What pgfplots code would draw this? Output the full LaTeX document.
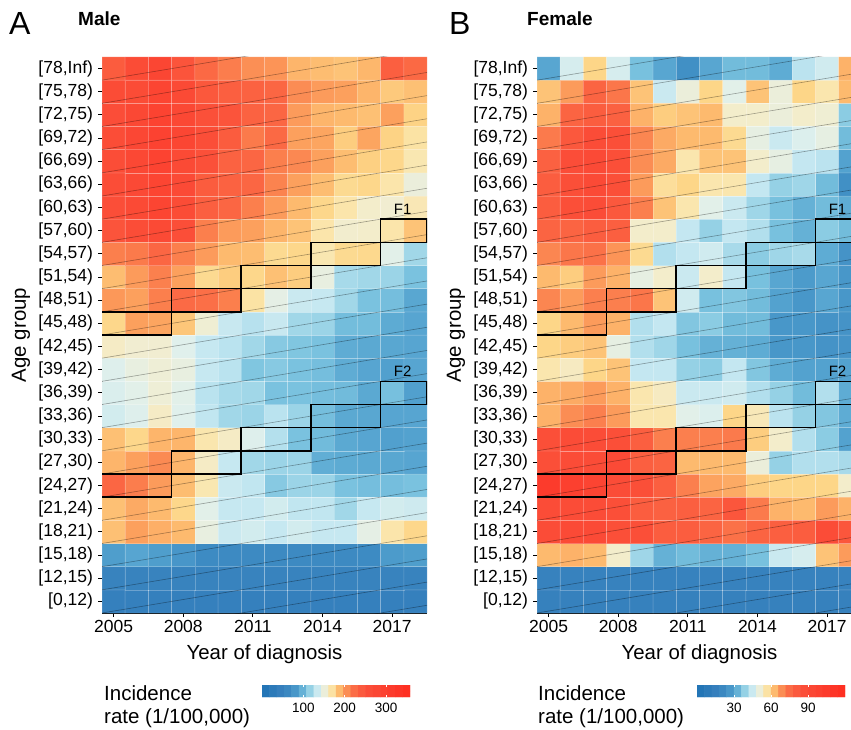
\documentclass[border=0pt]{standalone}
\usepackage{pgfplots}
\pgfplotsset{compat=1.18}
\usepackage{fontspec}
\setmainfont{Liberation Sans}

% RdYlBu-like scale (positions as fractions x1000)
\pgfplotsset{colormap={incid}{
  rgb255(0pt)=(30,115,180)
  rgb255(130pt)=(54,128,189)
  rgb255(200pt)=(62,140,195)
  rgb255(255pt)=(85,164,208)
  rgb255(300pt)=(120,193,222)
  rgb255(330pt)=(155,212,231)
  rgb255(365pt)=(195,231,241)
  rgb255(405pt)=(224,240,236)
  rgb255(440pt)=(243,237,205)
  rgb255(470pt)=(251,229,170)
  rgb255(500pt)=(253,214,136)
  rgb255(525pt)=(253,186,110)
  rgb255(555pt)=(252,158,92)
  rgb255(590pt)=(251,128,78)
  rgb255(640pt)=(251,100,66)
  rgb255(720pt)=(251,78,56)
  rgb255(850pt)=(252,62,46)
  rgb255(1000pt)=(255,45,32)
}}

\pgfplotsset{
  heat/.style={
    scale only axis, height=556pt,
    xmin=2004.5, ymin=-0.5, ymax=23.5,
    axis x line*=bottom, axis y line*=left,
    axis line style={-, line width=0.9pt},
    tick align=outside, major tick length=4pt,
    tick style={black, line width=0.9pt},
    xtick={2005,2008,2011,2014,2017},
    xticklabels={2005,2008,2011,2014,2017},
    ytick={0,...,23},
    yticklabels={{[0,12)},{[12,15)},{[15,18)},{[18,21)},{[21,24)},{[24,27)},
      {[27,30)},{[30,33)},{[33,36)},{[36,39)},{[39,42)},{[42,45)},{[45,48)},
      {[48,51)},{[51,54)},{[54,57)},{[57,60)},{[60,63)},{[63,66)},{[66,69)},
      {[69,72)},{[72,75)},{[75,78)},{[78,Inf)}},
    tick label style={font=\fontsize{17.5}{17.5}\selectfont},
    yticklabel style={xshift=-1.5pt},
    colormap name=incid,
  },
  cells/.style={matrix plot*, mesh/cols=14, point meta=explicit,
    draw=white, draw opacity=0.25, line width=0.5pt},
  % matrix plot* leaves its settings in 'every axis plot post': clear them
  cohort/.style={/pgfplots/every axis plot post/.style={}, sharp plot, no marks,
    black, opacity=0.35, line width=0.6pt, forget plot},
  band/.style={/pgfplots/every axis plot post/.style={}, sharp plot, no marks,
    black, line width=1.6pt, forget plot},
  cbar/.style={scale only axis, width=148pt, height=12pt, ymin=0, ymax=1,
    axis line style={draw=none}, ytick=\empty, axis on top,
    tick align=inside, major tick length=2.4pt, xtick pos=both,
    xticklabel pos=lower, tick style={white, line width=0.8pt},
    tick label style={font=\fontsize{13.5}{13.5}\selectfont},
    xticklabel style={yshift=-3pt},
    colormap name=incid},
}

% birth-cohort guide lines, one row apart
\newcommand\cohortlines{%
\addplot[cohort] coordinates {(2004.5,-2.5) (2018.5,-0.1667)};
\addplot[cohort] coordinates {(2004.5,-1.5) (2018.5,0.8333)};
\addplot[cohort] coordinates {(2004.5,-0.5) (2018.5,1.8333)};
\addplot[cohort] coordinates {(2004.5,0.5) (2018.5,2.8333)};
\addplot[cohort] coordinates {(2004.5,1.5) (2018.5,3.8333)};
\addplot[cohort] coordinates {(2004.5,2.5) (2018.5,4.8333)};
\addplot[cohort] coordinates {(2004.5,3.5) (2018.5,5.8333)};
\addplot[cohort] coordinates {(2004.5,4.5) (2018.5,6.8333)};
\addplot[cohort] coordinates {(2004.5,5.5) (2018.5,7.8333)};
\addplot[cohort] coordinates {(2004.5,6.5) (2018.5,8.8333)};
\addplot[cohort] coordinates {(2004.5,7.5) (2018.5,9.8333)};
\addplot[cohort] coordinates {(2004.5,8.5) (2018.5,10.8333)};
\addplot[cohort] coordinates {(2004.5,9.5) (2018.5,11.8333)};
\addplot[cohort] coordinates {(2004.5,10.5) (2018.5,12.8333)};
\addplot[cohort] coordinates {(2004.5,11.5) (2018.5,13.8333)};
\addplot[cohort] coordinates {(2004.5,12.5) (2018.5,14.8333)};
\addplot[cohort] coordinates {(2004.5,13.5) (2018.5,15.8333)};
\addplot[cohort] coordinates {(2004.5,14.5) (2018.5,16.8333)};
\addplot[cohort] coordinates {(2004.5,15.5) (2018.5,17.8333)};
\addplot[cohort] coordinates {(2004.5,16.5) (2018.5,18.8333)};
\addplot[cohort] coordinates {(2004.5,17.5) (2018.5,19.8333)};
\addplot[cohort] coordinates {(2004.5,18.5) (2018.5,20.8333)};
\addplot[cohort] coordinates {(2004.5,19.5) (2018.5,21.8333)};
\addplot[cohort] coordinates {(2004.5,20.5) (2018.5,22.8333)};
\addplot[cohort] coordinates {(2004.5,21.5) (2018.5,23.8333)};
\addplot[cohort] coordinates {(2004.5,22.5) (2018.5,24.8333)};
}
% cohort bands F1 and F2
\newcommand\bands{%
\addplot[band] coordinates {(2004.5,12.5) (2007.5,12.5) (2007.5,13.5) (2010.5,13.5) (2010.5,14.5) (2013.5,14.5) (2013.5,15.5) (2016.5,15.5) (2016.5,16.5) (2018.5,16.5) (2018.5,15.5) (2016.5,15.5) (2016.5,14.5) (2013.5,14.5) (2013.5,13.5) (2010.5,13.5) (2010.5,12.5) (2007.5,12.5) (2007.5,11.5) (2004.5,11.5)};
\addplot[band] coordinates {(2004.5,5.5) (2007.5,5.5) (2007.5,6.5) (2010.5,6.5) (2010.5,7.5) (2013.5,7.5) (2013.5,8.5) (2016.5,8.5) (2016.5,9.5) (2018.5,9.5) (2018.5,8.5) (2016.5,8.5) (2016.5,7.5) (2013.5,7.5) (2013.5,6.5) (2010.5,6.5) (2010.5,5.5) (2007.5,5.5) (2007.5,4.5) (2004.5,4.5)};
\node[font=\fontsize{15}{15}\selectfont, anchor=base] at (axis cs:2017.45,16.72) {F1};
\node[font=\fontsize{15}{15}\selectfont, anchor=base] at (axis cs:2017.45,9.72) {F2};
}

\begin{document}
\begin{tikzpicture}
\useasboundingbox (0pt,0pt) rectangle (851pt,-730pt);
\fill[white] (0pt,0pt) rectangle (851pt,-730pt);

% ---------------- Male ----------------
\begin{axis}[heat, at={(102pt,-613pt)}, anchor=south west, width=325pt,
  xmax=2018.5, point meta min=0, point meta max=358]
\addplot[cells] coordinates {
(2005,0)[45] (2006,0)[45] (2007,0)[45] (2008,0)[45] (2009,0)[45] (2010,0)[45] (2011,0)[45] (2012,0)[45] (2013,0)[45] (2014,0)[45] (2015,0)[45] (2016,0)[45] (2017,0)[45] (2018,0)[45]
(2005,1)[52] (2006,1)[52] (2007,1)[52] (2008,1)[52] (2009,1)[52] (2010,1)[52] (2011,1)[52] (2012,1)[52] (2013,1)[52] (2014,1)[52] (2015,1)[52] (2016,1)[52] (2017,1)[52] (2018,1)[52]
(2005,2)[86] (2006,2)[92] (2007,2)[86] (2008,2)[80] (2009,2)[70] (2010,2)[68] (2011,2)[68] (2012,2)[68] (2013,2)[68] (2014,2)[68] (2015,2)[68] (2016,2)[70] (2017,2)[84] (2018,2)[86]
(2005,3)[186] (2006,3)[198] (2007,3)[192] (2008,3)[188] (2009,3)[150] (2010,3)[134] (2011,3)[138] (2012,3)[132] (2013,3)[138] (2014,3)[132] (2015,3)[132] (2016,3)[148] (2017,3)[168] (2018,3)[178]
(2005,4)[186] (2006,4)[194] (2007,4)[188] (2008,4)[178] (2009,4)[146] (2010,4)[132] (2011,4)[132] (2012,4)[138] (2013,4)[130] (2014,4)[130] (2015,4)[120] (2016,4)[132] (2017,4)[138] (2018,4)[136]
(2005,5)[228] (2006,5)[213] (2007,5)[200] (2008,5)[187] (2009,5)[166] (2010,5)[134] (2011,5)[130] (2012,5)[112] (2013,5)[118] (2014,5)[118] (2015,5)[108] (2016,5)[106] (2017,5)[106] (2018,5)[108]
(2005,6)[190] (2006,6)[198] (2007,6)[207] (2008,6)[190] (2009,6)[160] (2010,6)[132] (2011,6)[120] (2012,6)[118] (2013,6)[118] (2014,6)[97] (2015,6)[95] (2016,6)[94] (2017,6)[93] (2018,6)[92]
(2005,7)[186] (2006,7)[178] (2007,7)[190] (2008,7)[190] (2009,7)[167] (2010,7)[160] (2011,7)[144] (2012,7)[126] (2013,7)[108] (2014,7)[104] (2015,7)[94] (2016,7)[92] (2017,7)[88] (2018,7)[90]
(2005,8)[138] (2006,8)[144] (2007,8)[160] (2008,8)[145] (2009,8)[130] (2010,8)[120] (2011,8)[118] (2012,8)[128] (2013,8)[118] (2014,8)[106] (2015,8)[94] (2016,8)[93] (2017,8)[92] (2018,8)[92]
(2005,9)[142] (2006,9)[146] (2007,9)[154] (2008,9)[146] (2009,9)[128] (2010,9)[122] (2011,9)[120] (2012,9)[108] (2013,9)[108] (2014,9)[106] (2015,9)[104] (2016,9)[94] (2017,9)[107] (2018,9)[88]
(2005,10)[144] (2006,10)[150] (2007,10)[154] (2008,10)[150] (2009,10)[132] (2010,10)[128] (2011,10)[110] (2012,10)[112] (2013,10)[108] (2014,10)[106] (2015,10)[96] (2016,10)[92] (2017,10)[88] (2018,10)[92]
(2005,11)[160] (2006,11)[156] (2007,11)[156] (2008,11)[145] (2009,11)[132] (2010,11)[128] (2011,11)[120] (2012,11)[112] (2013,11)[110] (2014,11)[108] (2015,11)[96] (2016,11)[94] (2017,11)[93] (2018,11)[92]
(2005,12)[178] (2006,12)[198] (2007,12)[196] (2008,12)[184] (2009,12)[155] (2010,12)[133] (2011,12)[127] (2012,12)[133] (2013,12)[120] (2014,12)[118] (2015,12)[105] (2016,12)[105] (2017,12)[95] (2018,12)[92]
(2005,13)[201] (2006,13)[198] (2007,13)[212] (2008,13)[225] (2009,13)[222] (2010,13)[212] (2011,13)[170] (2012,13)[148] (2013,13)[134] (2014,13)[132] (2015,13)[120] (2016,13)[108] (2017,13)[106] (2018,13)[93]
(2005,14)[187] (2006,14)[200] (2007,14)[211] (2008,14)[198] (2009,14)[176] (2010,14)[182] (2011,14)[178] (2012,14)[186] (2013,14)[182] (2014,14)[150] (2015,14)[122] (2016,14)[120] (2017,14)[118] (2018,14)[108]
(2005,15)[212] (2006,15)[215] (2007,15)[228] (2008,15)[212] (2009,15)[200] (2010,15)[188] (2011,15)[187] (2012,15)[176] (2013,15)[178] (2014,15)[166] (2015,15)[176] (2016,15)[177] (2017,15)[146] (2018,15)[120]
(2005,16)[250] (2006,16)[262] (2007,16)[270] (2008,16)[258] (2009,16)[212] (2010,16)[200] (2011,16)[198] (2012,16)[190] (2013,16)[185] (2014,16)[168] (2015,16)[157] (2016,16)[158] (2017,16)[168] (2018,16)[185]
(2005,17)[258] (2006,17)[270] (2007,17)[285] (2008,17)[265] (2009,17)[235] (2010,17)[228] (2011,17)[212] (2012,17)[200] (2013,17)[188] (2014,17)[178] (2015,17)[168] (2016,17)[158] (2017,17)[156] (2018,17)[165]
(2005,18)[262] (2006,18)[272] (2007,18)[285] (2008,18)[268] (2009,18)[240] (2010,18)[232] (2011,18)[228] (2012,18)[210] (2013,18)[198] (2014,18)[187] (2015,18)[176] (2016,18)[178] (2017,18)[168] (2018,18)[152]
(2005,19)[262] (2006,19)[275] (2007,19)[290] (2008,19)[270] (2009,19)[255] (2010,19)[232] (2011,19)[228] (2012,19)[212] (2013,19)[208] (2014,19)[198] (2015,19)[187] (2016,19)[181] (2017,19)[178] (2018,19)[166]
(2005,20)[262] (2006,20)[278] (2007,20)[292] (2008,20)[280] (2009,20)[258] (2010,20)[240] (2011,20)[215] (2012,20)[226] (2013,20)[198] (2014,20)[196] (2015,20)[182] (2016,20)[196] (2017,20)[180] (2018,20)[170]
(2005,21)[260] (2006,21)[275] (2007,21)[290] (2008,21)[275] (2009,21)[255] (2010,21)[250] (2011,21)[232] (2012,21)[228] (2013,21)[200] (2014,21)[190] (2015,21)[188] (2016,21)[186] (2017,21)[198] (2018,21)[180]
(2005,22)[265] (2006,22)[265] (2007,22)[285] (2008,22)[270] (2009,22)[245] (2010,22)[236] (2011,22)[232] (2012,22)[228] (2013,22)[206] (2014,22)[200] (2015,22)[198] (2016,22)[190] (2017,22)[183] (2018,22)[186]
(2005,23)[240] (2006,23)[265] (2007,23)[280] (2008,23)[250] (2009,23)[226] (2010,23)[213] (2011,23)[205] (2012,23)[203] (2013,23)[190] (2014,23)[187] (2015,23)[185] (2016,23)[189] (2017,23)[236] (2018,23)[226]
};
\cohortlines
\bands
\end{axis}

% ---------------- Female ----------------
\begin{axis}[heat, at={(537pt,-613pt)}, anchor=south west, width=314pt,
  xmax=2018.03, point meta min=0, point meta max=120]
\addplot[cells] coordinates {
(2005,0)[16] (2006,0)[16] (2007,0)[16] (2008,0)[16] (2009,0)[16] (2010,0)[16] (2011,0)[16] (2012,0)[16] (2013,0)[16] (2014,0)[16] (2015,0)[16] (2016,0)[16] (2017,0)[16] (2018,0)[16]
(2005,1)[17] (2006,1)[17] (2007,1)[17] (2008,1)[17] (2009,1)[17] (2010,1)[17] (2011,1)[17] (2012,1)[17] (2013,1)[17] (2014,1)[17] (2015,1)[17] (2016,1)[17] (2017,1)[17] (2018,1)[17]
(2005,2)[63] (2006,2)[64] (2007,2)[63] (2008,2)[53] (2009,2)[40] (2010,2)[33] (2011,2)[35] (2012,2)[33] (2013,2)[33] (2014,2)[36] (2015,2)[45] (2016,2)[47] (2017,2)[62] (2018,2)[67]
(2005,3)[88] (2006,3)[90] (2007,3)[90] (2008,3)[86] (2009,3)[86] (2010,3)[80] (2011,3)[80] (2012,3)[77] (2013,3)[74] (2014,3)[77] (2015,3)[79] (2016,3)[80] (2017,3)[88] (2018,3)[83]
(2005,4)[88] (2006,4)[88] (2007,4)[88] (2008,4)[86] (2009,4)[80] (2010,4)[78] (2011,4)[79] (2012,4)[77] (2013,4)[83] (2014,4)[72] (2015,4)[64] (2016,4)[63] (2017,4)[67] (2018,4)[64]
(2005,5)[105] (2006,5)[100] (2007,5)[96] (2008,5)[88] (2009,5)[86] (2010,5)[79] (2011,5)[71] (2012,5)[66] (2013,5)[65] (2014,5)[61] (2015,5)[60] (2016,5)[60] (2017,5)[60] (2018,5)[53]
(2005,6)[86] (2006,6)[88] (2007,6)[88] (2008,6)[90] (2009,6)[79] (2010,6)[77] (2011,6)[63] (2012,6)[63] (2013,6)[63] (2014,6)[51] (2015,6)[39] (2016,6)[42] (2017,6)[42] (2018,6)[41]
(2005,7)[86] (2006,7)[88] (2007,7)[88] (2008,7)[86] (2009,7)[79] (2010,7)[71] (2011,7)[71] (2012,7)[71] (2013,7)[72] (2014,7)[61] (2015,7)[53] (2016,7)[42] (2017,7)[38] (2018,7)[30]
(2005,8)[64] (2006,8)[69] (2007,8)[71] (2008,8)[67] (2009,8)[56] (2010,8)[56] (2011,8)[49] (2012,8)[48] (2013,8)[60] (2014,8)[55] (2015,8)[43] (2016,8)[39] (2017,8)[37] (2018,8)[32]
(2005,9)[64] (2006,9)[65] (2007,9)[67] (2008,9)[64] (2009,9)[56] (2010,9)[54] (2011,9)[45] (2012,9)[45] (2013,9)[46] (2014,9)[42] (2015,9)[39] (2016,9)[35] (2017,9)[42] (2018,9)[32]
(2005,10)[56] (2006,10)[54] (2007,10)[60] (2008,10)[62] (2009,10)[44] (2010,10)[44] (2011,10)[39] (2012,10)[38] (2013,10)[44] (2014,10)[37] (2015,10)[32] (2016,10)[30] (2017,10)[30] (2018,10)[30]
(2005,11)[60] (2006,11)[61] (2007,11)[62] (2008,11)[50] (2009,11)[42] (2010,11)[40] (2011,11)[36] (2012,11)[33] (2013,11)[33] (2014,11)[32] (2015,11)[27] (2016,11)[27] (2017,11)[26] (2018,11)[26]
(2005,12)[60] (2006,12)[63] (2007,12)[67] (2008,12)[64] (2009,12)[42] (2010,12)[44] (2011,12)[37] (2012,12)[38] (2013,12)[35] (2014,12)[35] (2015,12)[27] (2016,12)[27] (2017,12)[26] (2018,12)[26]
(2005,13)[70] (2006,13)[67] (2007,13)[71] (2008,13)[71] (2009,13)[73] (2010,13)[62] (2011,13)[46] (2012,13)[36] (2013,13)[37] (2014,13)[35] (2015,13)[30] (2016,13)[27] (2017,13)[31] (2018,13)[27]
(2005,14)[63] (2006,14)[61] (2007,14)[67] (2008,14)[64] (2009,14)[50] (2010,14)[53] (2011,14)[45] (2012,14)[53] (2013,14)[44] (2014,14)[36] (2015,14)[31] (2016,14)[28] (2017,14)[31] (2018,14)[27]
(2005,15)[70] (2006,15)[73] (2007,15)[74] (2008,15)[68] (2009,15)[59] (2010,15)[42] (2011,15)[44] (2012,15)[46] (2013,15)[41] (2014,15)[38] (2015,15)[40] (2016,15)[41] (2017,15)[32] (2018,15)[26]
(2005,16)[77] (2006,16)[77] (2007,16)[80] (2008,16)[79] (2009,16)[53] (2010,16)[53] (2011,16)[44] (2012,16)[39] (2013,16)[44] (2014,16)[42] (2015,16)[36] (2016,16)[33] (2017,16)[38] (2018,16)[35]
(2005,17)[80] (2006,17)[86] (2007,17)[88] (2008,17)[82] (2009,17)[71] (2010,17)[62] (2011,17)[56] (2012,17)[49] (2013,17)[45] (2014,17)[40] (2015,17)[36] (2016,17)[33] (2017,17)[35] (2018,17)[32]
(2005,18)[80] (2006,18)[86] (2007,18)[90] (2008,18)[86] (2009,18)[67] (2010,18)[58] (2011,18)[60] (2012,18)[56] (2013,18)[56] (2014,18)[44] (2015,18)[39] (2016,18)[40] (2017,18)[35] (2018,18)[25]
(2005,19)[78] (2006,19)[87] (2007,19)[90] (2008,19)[86] (2009,19)[69] (2010,19)[65] (2011,19)[56] (2012,19)[62] (2013,19)[62] (2014,19)[53] (2015,19)[50] (2016,19)[44] (2017,19)[43] (2018,19)[30]
(2005,20)[72] (2006,20)[82] (2007,20)[88] (2008,20)[86] (2009,20)[70] (2010,20)[65] (2011,20)[63] (2012,20)[63] (2013,20)[59] (2014,20)[50] (2015,20)[45] (2016,20)[48] (2017,20)[50] (2018,20)[35]
(2005,21)[64] (2006,21)[77] (2007,21)[80] (2008,21)[78] (2009,21)[64] (2010,21)[61] (2011,21)[62] (2012,21)[63] (2013,21)[53] (2014,21)[53] (2015,21)[51] (2016,21)[53] (2017,21)[52] (2018,21)[38]
(2005,22)[62] (2006,22)[67] (2007,22)[77] (2008,22)[73] (2009,22)[62] (2010,22)[45] (2011,22)[51] (2012,22)[60] (2013,22)[49] (2014,22)[62] (2015,22)[51] (2016,22)[60] (2017,22)[56] (2018,22)[63]
(2005,23)[31] (2006,23)[47] (2007,23)[60] (2008,23)[47] (2009,23)[36] (2010,23)[31] (2011,23)[25] (2012,23)[31] (2013,23)[35] (2014,23)[35] (2015,23)[32] (2016,23)[43] (2017,23)[46] (2018,23)[64]
};
\cohortlines
\bands
\end{axis}

% ---------------- colour bars ----------------
\begin{axis}[cbar, at={(262pt,-697pt)}, anchor=south west,
  xmin=0, xmax=358, xtick={100,200,300}, xticklabels={100,200,300},
  point meta min=0, point meta max=358]
\addplot[matrix plot*, mesh/cols=20, point meta=x] coordinates {
(8.95,0.25) (26.85,0.25) (44.75,0.25) (62.65,0.25) (80.55,0.25) (98.45,0.25) (116.35,0.25) (134.25,0.25) (152.15,0.25) (170.05,0.25) (187.95,0.25) (205.85,0.25) (223.75,0.25) (241.65,0.25) (259.55,0.25) (277.45,0.25) (295.35,0.25) (313.25,0.25) (331.15,0.25) (349.05,0.25)
(8.95,0.75) (26.85,0.75) (44.75,0.75) (62.65,0.75) (80.55,0.75) (98.45,0.75) (116.35,0.75) (134.25,0.75) (152.15,0.75) (170.05,0.75) (187.95,0.75) (205.85,0.75) (223.75,0.75) (241.65,0.75) (259.55,0.75) (277.45,0.75) (295.35,0.75) (313.25,0.75) (331.15,0.75) (349.05,0.75)
};
\end{axis}
\begin{axis}[cbar, at={(697pt,-697pt)}, anchor=south west,
  xmin=0, xmax=120, xtick={30,60,90}, xticklabels={30,60,90},
  point meta min=0, point meta max=120]
\addplot[matrix plot*, mesh/cols=20, point meta=x] coordinates {
(3,0.25) (9,0.25) (15,0.25) (21,0.25) (27,0.25) (33,0.25) (39,0.25) (45,0.25) (51,0.25) (57,0.25) (63,0.25) (69,0.25) (75,0.25) (81,0.25) (87,0.25) (93,0.25) (99,0.25) (105,0.25) (111,0.25) (117,0.25)
(3,0.75) (9,0.75) (15,0.75) (21,0.75) (27,0.75) (33,0.75) (39,0.75) (45,0.75) (51,0.75) (57,0.75) (63,0.75) (69,0.75) (75,0.75) (81,0.75) (87,0.75) (93,0.75) (99,0.75) (105,0.75) (111,0.75) (117,0.75)
};
\end{axis}

% ---------------- titles and labels ----------------
\node[anchor=base west, font=\fontsize{32}{32}\selectfont, inner sep=0pt] at (9pt,-35pt) {A};
\node[anchor=base west, font=\fontsize{32}{32}\selectfont, inner sep=0pt] at (449pt,-35pt) {B};
\node[anchor=base west, font=\bfseries\fontsize{19}{19}\selectfont, inner sep=0pt] at (78pt,-26pt) {Male};
\node[anchor=base west, font=\bfseries\fontsize{19}{19}\selectfont, inner sep=0pt] at (527pt,-26pt) {Female};
\node[rotate=90, font=\fontsize{20.4}{20.4}\selectfont, inner sep=0pt] at (21pt,-335pt) {Age group};
\node[rotate=90, font=\fontsize{20.4}{20.4}\selectfont, inner sep=0pt] at (456pt,-335pt) {Age group};
\node[anchor=base, font=\fontsize{20.4}{20.4}\selectfont, inner sep=0pt] at (264.5pt,-659pt) {Year of diagnosis};
\node[anchor=base, font=\fontsize{20.4}{20.4}\selectfont, inner sep=0pt] at (699.5pt,-659pt) {Year of diagnosis};
\node[anchor=base west, font=\fontsize{20.5}{20.5}\selectfont, inner sep=0pt] at (104pt,-700pt) {Incidence};
\node[anchor=base west, font=\fontsize{20.5}{20.5}\selectfont, inner sep=0pt] at (104pt,-723pt) {rate (1/100,000)};
\node[anchor=base west, font=\fontsize{20.5}{20.5}\selectfont, inner sep=0pt] at (538pt,-700pt) {Incidence};
\node[anchor=base west, font=\fontsize{20.5}{20.5}\selectfont, inner sep=0pt] at (538pt,-723pt) {rate (1/100,000)};
\end{tikzpicture}
\end{document}
